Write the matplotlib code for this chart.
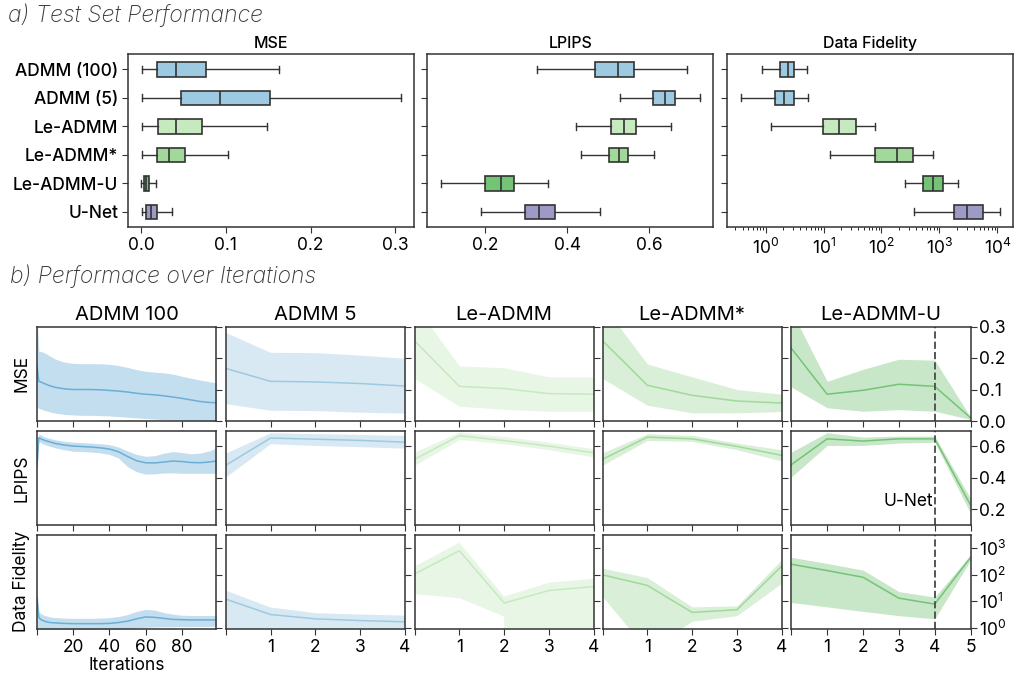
import matplotlib
matplotlib.use('Agg')
import matplotlib.pyplot as plt
from matplotlib.ticker import NullLocator, FixedLocator, LogLocator, NullFormatter

FONT = 'Inter'
plt.rcParams['font.family'] = [FONT, 'DejaVu Sans']
plt.rcParams['mathtext.fontset'] = 'custom'
plt.rcParams['mathtext.rm'] = FONT
plt.rcParams['mathtext.it'] = FONT + ':italic'
plt.rcParams['mathtext.bf'] = FONT + ':bold'

# ---------------- a) Test set performance (box stats) ----------------
methods = ['ADMM (100)', 'ADMM (5)', 'Le-ADMM', 'Le-ADMM*', 'Le-ADMM-U', 'U-Net']
box_colors = ['#9ecae1', '#9ecae1', '#c7e9c0', '#a1d99b', '#74c476', '#9e9ac8']

mse_whislo = [0.001, 0.0016, 0.001, 0.0016, 0.000, 0.001]
mse_q1     = [0.019, 0.047, 0.020, 0.019, 0.003, 0.006]
mse_med    = [0.0406, 0.093, 0.0406, 0.033, 0.006, 0.0114]
mse_q3     = [0.076, 0.152, 0.072, 0.052, 0.0095, 0.019]
mse_whishi = [0.1626, 0.307, 0.148, 0.103, 0.018, 0.037]

lpips_whislo = [0.327, 0.530, 0.422, 0.434, 0.091, 0.189]
lpips_q1     = [0.469, 0.609, 0.508, 0.502, 0.199, 0.298]
lpips_med    = [0.524, 0.638, 0.538, 0.526, 0.239, 0.331]
lpips_q3     = [0.563, 0.664, 0.568, 0.548, 0.271, 0.371]
lpips_whishi = [0.692, 0.725, 0.653, 0.611, 0.353, 0.480]

df_whislo = [0.875, 0.37, 1.22, 13.1, 258, 360]
df_q1     = [1.79, 1.45, 9.9, 78, 515, 1765]
df_med    = [2.40, 2.10, 18.7, 183, 766, 3000]
df_q3     = [3.13, 3.05, 36.8, 355, 1156, 5600]
df_whishi = [5.18, 5.46, 77, 766, 2128, 11140]

box_metrics = ['MSE', 'LPIPS', 'Data Fidelity']

# ---------------- b) Performance over iterations ----------------
col_titles = ['ADMM 100', 'ADMM 5', 'Le-ADMM', 'Le-ADMM*', 'Le-ADMM-U']
line_colors = ['#6baed6', '#9ecae1', '#c7e9c0', '#a1d99b', '#74c476']
row_labels = ['MSE', 'LPIPS', 'Data Fidelity']

admm100_iter = [0, 1, 2, 4, 7, 10, 15, 20, 25, 30, 35, 40, 45, 50, 55, 60, 65, 70, 75, 80, 85, 90, 95, 99]
admm100_mse_mean = [0.172, 0.126, 0.124, 0.119, 0.112, 0.107, 0.102, 0.100, 0.100, 0.100, 0.099, 0.097,
                    0.095, 0.092, 0.088, 0.085, 0.083, 0.080, 0.076, 0.072, 0.067, 0.062, 0.059, 0.058]
admm100_mse_hi = [0.34, 0.222, 0.221, 0.217, 0.207, 0.197, 0.187, 0.183, 0.182, 0.182, 0.182, 0.180,
                  0.176, 0.170, 0.163, 0.158, 0.155, 0.153, 0.149, 0.142, 0.136, 0.130, 0.125, 0.121]
admm100_mse_lo = [0.045, 0.040, 0.038, 0.034, 0.029, 0.025, 0.021, 0.019, 0.018, 0.018, 0.017, 0.016,
                  0.014, 0.012, 0.010, 0.008, 0.006, 0.004, 0.003, 0.002, 0.001, 0.000, -0.001, -0.002]
admm100_lpips_mean = [0.479, 0.654, 0.648, 0.638, 0.628, 0.618, 0.608, 0.601, 0.598, 0.595, 0.590, 0.582,
                      0.565, 0.535, 0.508, 0.495, 0.494, 0.500, 0.506, 0.503, 0.497, 0.495, 0.500, 0.506]
admm100_lpips_hi = [0.52, 0.680, 0.672, 0.660, 0.650, 0.641, 0.632, 0.626, 0.623, 0.620, 0.616, 0.610,
                    0.595, 0.570, 0.548, 0.536, 0.540, 0.556, 0.566, 0.560, 0.552, 0.556, 0.570, 0.590]
admm100_lpips_lo = [0.44, 0.632, 0.623, 0.612, 0.600, 0.590, 0.578, 0.568, 0.566, 0.563, 0.558, 0.548,
                    0.525, 0.470, 0.438, 0.423, 0.425, 0.430, 0.431, 0.428, 0.428, 0.428, 0.428, 0.428]
admm100_df_mean = [12.5, 2.5, 2.1, 1.8, 1.6, 1.55, 1.48, 1.45, 1.45, 1.45, 1.45, 1.48,
                   1.6, 1.8, 2.2, 2.6, 2.5, 2.3, 2.1, 2.05, 2.0, 2.0, 2.0, 2.0]
admm100_df_hi = [28, 4.2, 3.5, 3.0, 2.6, 2.45, 2.35, 2.3, 2.3, 2.3, 2.35, 2.45,
                 2.7, 3.2, 4.2, 5.0, 4.7, 3.8, 3.3, 3.0, 2.95, 2.95, 2.95, 2.95]
admm100_df_lo = [0.5, 0.7, 0.75, 0.8, 0.8, 0.8, 0.8, 0.8, 0.8, 0.8, 0.82, 0.85,
                 0.9, 0.95, 1.0, 1.05, 1.08, 1.1, 1.1, 1.12, 1.12, 1.13, 1.14, 1.15]

admm5_iter = [0, 1, 2, 3, 4]
admm5_mse_mean = [0.167, 0.126, 0.124, 0.119, 0.111]
admm5_mse_hi = [0.281, 0.218, 0.217, 0.209, 0.199]
admm5_mse_lo = [0.055, 0.034, 0.033, 0.028, 0.025]
admm5_lpips_mean = [0.479, 0.652, 0.645, 0.637, 0.626]
admm5_lpips_hi = [0.557, 0.686, 0.680, 0.675, 0.669]
admm5_lpips_lo = [0.405, 0.616, 0.605, 0.597, 0.588]
admm5_df_mean = [12.2, 3.2, 2.2, 1.9, 1.7]
admm5_df_hi = [25.7, 5.9, 3.6, 3.2, 2.9]
admm5_df_lo = [-5.0, -2.0, -1.0, -1.0, -1.0]

leadmm_iter = [0, 1, 2, 3, 4]
leadmm_mse_mean = [0.255, 0.110, 0.103, 0.087, 0.085]
leadmm_mse_hi = [0.37, 0.175, 0.169, 0.140, 0.140]
leadmm_mse_lo = [0.135, 0.047, 0.037, 0.031, 0.031]
leadmm_lpips_mean = [0.517, 0.667, 0.636, 0.601, 0.558]
leadmm_lpips_hi = [0.563, 0.690, 0.662, 0.626, 0.584]
leadmm_lpips_lo = [0.479, 0.643, 0.616, 0.578, 0.532]
leadmm_df_mean = [107, 813, 8.7, 25.7, 36.3]
leadmm_df_hi = [204, 1620, 15.1, 51, 71]
leadmm_df_lo = [18.6, 13.2, 2.7, -10.0, -8.0]

leadmms_iter = [0, 1, 2, 3, 4]
leadmms_mse_mean = [0.255, 0.1135, 0.0815, 0.0634, 0.057]
leadmms_mse_hi = [0.37, 0.181, 0.140, 0.100, 0.085]
leadmms_mse_lo = [0.135, 0.050, 0.026, 0.026, 0.030]
leadmms_lpips_mean = [0.517, 0.658, 0.647, 0.599, 0.542]
leadmms_lpips_hi = [0.559, 0.679, 0.669, 0.620, 0.578]
leadmms_lpips_lo = [0.479, 0.637, 0.631, 0.578, 0.506]
leadmms_df_mean = [100, 40, 3.85, 4.85, 214]
leadmms_df_hi = [178, 79, 6.2, 6.8, 380]
leadmms_df_lo = [15.1, 0.145, 1.78, 2.9, 49]

leadmmu_iter = [0, 1, 2, 3, 4, 5]
leadmmu_mse_mean = [0.231, 0.085, 0.0975, 0.1167, 0.110, 0.010]
leadmmu_mse_hi = [0.35, 0.126, 0.164, 0.196, 0.193, 0.012]
leadmmu_mse_lo = [0.108, 0.042, 0.031, 0.036, 0.031, 0.005]
leadmmu_lpips_mean = [0.483, 0.647, 0.633, 0.647, 0.647, 0.226]
leadmmu_lpips_hi = [0.563, 0.686, 0.658, 0.664, 0.664, 0.268]
leadmmu_lpips_lo = [0.405, 0.605, 0.605, 0.620, 0.626, 0.174]
leadmmu_df_mean = [251, 145, 81, 13.2, 7.9, 457]
leadmmu_df_hi = [457, 269, 151, 23.4, 14.5, 562]
leadmmu_df_lo = [9.1, 6.2, 4.2, 2.9, 2.2, 363]
unet_iter = 4

series = [
    (admm100_iter, [(admm100_mse_mean, admm100_mse_lo, admm100_mse_hi),
                    (admm100_lpips_mean, admm100_lpips_lo, admm100_lpips_hi),
                    (admm100_df_mean, admm100_df_lo, admm100_df_hi)]),
    (admm5_iter, [(admm5_mse_mean, admm5_mse_lo, admm5_mse_hi),
                  (admm5_lpips_mean, admm5_lpips_lo, admm5_lpips_hi),
                  (admm5_df_mean, admm5_df_lo, admm5_df_hi)]),
    (leadmm_iter, [(leadmm_mse_mean, leadmm_mse_lo, leadmm_mse_hi),
                   (leadmm_lpips_mean, leadmm_lpips_lo, leadmm_lpips_hi),
                   (leadmm_df_mean, leadmm_df_lo, leadmm_df_hi)]),
    (leadmms_iter, [(leadmms_mse_mean, leadmms_mse_lo, leadmms_mse_hi),
                    (leadmms_lpips_mean, leadmms_lpips_lo, leadmms_lpips_hi),
                    (leadmms_df_mean, leadmms_df_lo, leadmms_df_hi)]),
    (leadmmu_iter, [(leadmmu_mse_mean, leadmmu_mse_lo, leadmmu_mse_hi),
                    (leadmmu_lpips_mean, leadmmu_lpips_lo, leadmmu_lpips_hi),
                    (leadmmu_df_mean, leadmmu_df_lo, leadmmu_df_hi)]),
]

# ---------------- figure ----------------
W, H = 1016, 677
fig = plt.figure(figsize=(W / 100, H / 100), dpi=100)
DARK = '#333333'


def fx(px):
    return px / W


def fy(py):
    return 1 - py / H


# top panel axes
top_lefts = [128, 427.3, 727.3]
top_w = 286
top_top, top_bot = 54, 227
box_stats_all = [
    (mse_whislo, mse_q1, mse_med, mse_q3, mse_whishi),
    (lpips_whislo, lpips_q1, lpips_med, lpips_q3, lpips_whishi),
    (df_whislo, df_q1, df_med, df_q3, df_whishi),
]
for k in range(3):
    ax = fig.add_axes([fx(top_lefts[k]), fy(top_bot), top_w / W, (top_bot - top_top) / H])
    wl, q1, md, q3, wh = box_stats_all[k]
    stats = [dict(whislo=wl[i], q1=q1[i], med=md[i], q3=q3[i], whishi=wh[i], fliers=[], label=methods[i])
             for i in range(len(methods))]
    kw = dict(positions=list(range(len(methods))), widths=0.5, patch_artist=True, showfliers=False,
              boxprops=dict(edgecolor=DARK, linewidth=1.2),
              medianprops=dict(color=DARK, linewidth=1.2),
              whiskerprops=dict(color=DARK, linewidth=1.0),
              capprops=dict(color=DARK, linewidth=1.0))
    try:
        bp = ax.bxp(stats, orientation='horizontal', **kw)
    except TypeError:
        bp = ax.bxp(stats, vert=False, **kw)
    for patch, c in zip(bp['boxes'], box_colors):
        patch.set_facecolor(c)
    ax.set_ylim(5.53, -0.54)
    ax.set_yticks(range(len(methods)))
    if k == 0:
        ax.set_yticklabels(methods, fontsize=12.5, fontweight='medium')
    else:
        ax.set_yticklabels([])
    ax.set_title(box_metrics[k], fontsize=11.5, fontweight='medium', pad=4)
    if k == 0:
        ax.set_xlim(-0.0155, 0.322)
        ax.set_xticks([0.0, 0.1, 0.2, 0.3])
        ax.set_xticklabels(['0.0', '0.1', '0.2', '0.3'])
    elif k == 1:
        ax.set_xlim(0.058, 0.757)
        ax.set_xticks([0.2, 0.4, 0.6])
        ax.set_xticklabels(['0.2', '0.4', '0.6'])
    else:
        ax.set_xscale('log')
        ax.set_xlim(10 ** -0.662, 10 ** 4.277)
        ax.xaxis.set_major_locator(FixedLocator([1, 10, 100, 1000, 10000]))
        ax.set_xticklabels([r'$10^{0}$', r'$10^{1}$', r'$10^{2}$', r'$10^{3}$', r'$10^{4}$'])
        ax.xaxis.set_minor_locator(LogLocator(base=10, subs=range(2, 10), numticks=20))
        ax.xaxis.set_minor_formatter(NullFormatter())
    ax.tick_params(axis='x', labelsize=12.5, length=4, color=DARK)
    ax.tick_params(axis='y', length=4, color=DARK, pad=3)
    for s in ax.spines.values():
        s.set_color(DARK)
        s.set_linewidth(1.1)

# bottom grid
col_lefts = [37, 225.7, 414.5, 602.5, 791.3]
col_w = 179.3
row_tops = [326.5, 430.5, 534.5]
row_h = 94.5
xlims = [(0, 99), (0, 4), (0, 4), (0, 4), (0, 5)]
xticks = [[0, 20, 40, 60, 80], [0, 1, 2, 3, 4], [0, 1, 2, 3, 4], [0, 1, 2, 3, 4], [0, 1, 2, 3, 4, 5]]

for c in range(5):
    its, rows = series[c]
    for r in range(3):
        ax = fig.add_axes([fx(col_lefts[c]), fy(row_tops[r] + row_h), col_w / W, row_h / H])
        mean, lo, hi = rows[r]
        if r == 2:
            ax.set_yscale('log')
        ax.fill_between(its, lo, hi, color=line_colors[c], alpha=0.4, linewidth=0)
        ax.plot(its, mean, color=line_colors[c], linewidth=1.1)
        ax.set_xlim(*xlims[c])
        ax.set_xticks(xticks[c])
        if r == 2:
            ax.set_xticklabels([''] + [str(t) for t in xticks[c][1:]])
        else:
            ax.set_xticklabels([])
        if r == 0:
            ax.set_ylim(0, 0.3)
            ax.set_yticks([0.0, 0.1, 0.2, 0.3])
            ax.set_yticklabels(['0.0', '0.1', '0.2', '0.3'])
            ax.set_title(col_titles[c], fontsize=14.5, pad=5)
        elif r == 1:
            ax.set_ylim(0.1, 0.7)
            ax.set_yticks([0.2, 0.4, 0.6])
            ax.set_yticklabels(['0.2', '0.4', '0.6'])
        else:
            ax.set_ylim(10 ** -0.04, 10 ** 3.52)
            ax.yaxis.set_major_locator(FixedLocator([1, 10, 100, 1000]))
            ax.set_yticklabels([r'$10^{0}$', r'$10^{1}$', r'$10^{2}$', r'$10^{3}$'])
            ax.yaxis.set_minor_locator(NullLocator())
        ax.tick_params(axis='y', left=False, right=True, labelleft=False, labelright=(c == 4),
                       labelsize=12.5, length=4, color=DARK, pad=2)
        ax.tick_params(axis='x', labelsize=12.5, length=4, color=DARK, pad=3)
        if c == 0:
            ax.set_ylabel(row_labels[r], fontsize=12.5, labelpad=5)
            if r == 2:
                ax.set_xlabel('Iterations', fontsize=12.5, labelpad=1)
        if c == 4:
            ax.axvline(unet_iter, color='#555555', linestyle='--', linewidth=1.4)
            if r == 1:
                ax.text(unet_iter - 0.05, 0.25, 'U-Net', ha='right', va='center', fontsize=12.5)
        for s in ax.spines.values():
            s.set_color(DARK)
            s.set_linewidth(1.1)

fig.text(fx(8), fy(15), 'a) Test Set Performance', fontsize=16.5, fontstyle='italic',
         fontweight='light', color='#3a3a3a', ha='left', va='center')
fig.text(fx(10), fy(276), 'b) Performace over Iterations', fontsize=16.5, fontstyle='italic',
         fontweight='light', color='#3a3a3a', ha='left', va='center')

fig.savefig('out.png', dpi=100)
